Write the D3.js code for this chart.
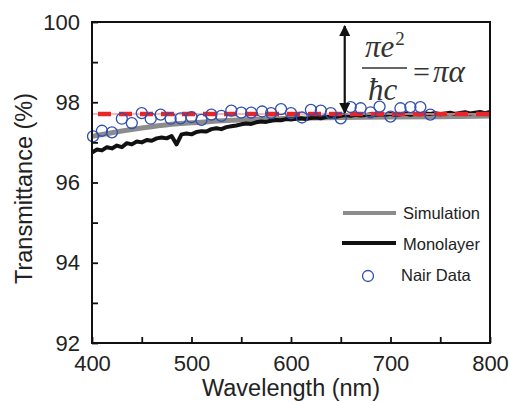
<!DOCTYPE html>
<html><head><meta charset="utf-8">
<script src="https://cdn.jsdelivr.net/npm/d3@7"></script>
<style>body{margin:0;background:#fff}svg{display:block}</style>
</head><body>
<script>
const xTicks=[400,500,600,700,800];
const yTicks=[92,94,96,98,100];
const fresnel=97.71;
const simWl=[400,420,440,460,480,500,520,540,560,580,600,650,700,750,800];
const simT=[97.15,97.24,97.32,97.39,97.45,97.49,97.52,97.55,97.57,97.59,97.60,97.62,97.63,97.64,97.66];
const monoWl=d3.range(400,801,5);
const monoT=[96.75,96.82,96.80,96.88,96.85,96.92,96.88,96.98,96.95,97.02,97.00,97.06,97.04,97.10,97.12,97.10,97.16,96.95,97.20,97.22,97.20,97.26,97.28,97.27,97.33,97.35,97.33,97.38,97.40,97.42,97.45,97.47,97.46,97.50,97.52,97.51,97.54,97.56,97.55,97.58,97.57,97.59,97.60,97.58,97.61,97.62,97.60,97.63,97.65,97.64,97.66,97.68,97.66,97.69,97.67,97.68,97.70,97.68,97.70,97.69,97.71,97.68,97.70,97.72,97.69,97.71,97.70,97.72,97.71,97.73,97.70,97.72,97.74,97.71,97.73,97.75,97.72,97.74,97.76,97.73,97.76];
const nairWl=[401,410,420,430,440,450,459,469,479,489,500,510,520,530,540,550,560,571,580,590,600,611,620,630,640,650,660,670,680,689,700,710,720,730,740];
const nairT=[97.15,97.29,97.25,97.59,97.48,97.73,97.59,97.69,97.59,97.60,97.63,97.56,97.69,97.66,97.79,97.74,97.74,97.77,97.73,97.83,97.73,97.62,97.81,97.79,97.73,97.60,97.88,97.85,97.75,97.89,97.64,97.85,97.88,97.88,97.69];
const legendLabels=["Simulation","Monolayer","Nair Data"];

const W=509,H=402;
const m={l:92,r:19,t:22,b:59};
const svg=d3.select("body").append("svg").attr("width",W).attr("height",H);
const x=d3.scaleLinear().domain([400,800]).range([m.l,W-m.r]);
const y=d3.scaleLinear().domain([92,100]).range([H-m.b,m.t]);
const font="'Liberation Sans', Arial, sans-serif";
const blue="#2f4fb0";

// data
svg.append("path").datum(simWl.map((d,i)=>[d,simT[i]]))
  .attr("d",d3.line().x(d=>x(d[0])).y(d=>y(d[1])).curve(d3.curveMonotoneX))
  .attr("fill","none").attr("stroke","#8c8c8c").attr("stroke-width",5);
svg.append("path").datum(monoWl.map((d,i)=>[d,monoT[i]]))
  .attr("d",d3.line().x(d=>x(d[0])).y(d=>y(d[1])))
  .attr("fill","none").attr("stroke","#111").attr("stroke-width",4).attr("stroke-linejoin","round");
svg.append("line").attr("x1",x(400)).attr("x2",x(800)).attr("y1",y(fresnel)).attr("y2",y(fresnel))
  .attr("stroke","#f4a0a0").attr("stroke-width",1.5);
svg.append("line").attr("x1",x(400)+6).attr("x2",x(800)).attr("y1",y(fresnel)).attr("y2",y(fresnel))
  .attr("stroke","#e8262a").attr("stroke-width",4.5).attr("stroke-dasharray","13,8");
svg.selectAll("circle.nair").data(nairWl.map((d,i)=>[d,nairT[i]])).enter().append("circle")
  .attr("class","nair").attr("cx",d=>x(d[0])).attr("cy",d=>y(d[1])).attr("r",5.5)
  .attr("fill","none").attr("stroke",blue).attr("stroke-width",1.3);

// axes
const gx=svg.append("g").attr("transform",`translate(0,${H-m.b})`)
  .call(d3.axisBottom(x).tickValues(d3.range(400,801,50)).tickSize(-6).tickPadding(10)
  .tickFormat(d=>xTicks.includes(d)?d:""));
const gy=svg.append("g").attr("transform",`translate(${m.l},0)`)
  .call(d3.axisLeft(y).tickValues(d3.range(92,100.1,1)).tickSize(-6).tickPadding(12)
  .tickFormat(d=>yTicks.includes(d)?d:""));
[gx,gy].forEach(g=>{g.select(".domain").remove();
  g.selectAll(".tick line").attr("stroke","#111").attr("stroke-width",1.8);
  g.selectAll("text").attr("font-family",font).attr("font-size",22).attr("fill","#222");});
gx.selectAll(".tick text").attr("dy","0.8em");
svg.append("rect").attr("x",m.l).attr("y",m.t).attr("width",W-m.r-m.l).attr("height",H-m.b-m.t)
  .attr("fill","none").attr("stroke","#111").attr("stroke-width",2);

svg.append("text").attr("x",(m.l+W-m.r)/2).attr("y",396).attr("text-anchor","middle")
  .attr("font-family",font).attr("font-size",23.5).attr("fill","#222").text("Wavelength (nm)");
svg.append("text").attr("transform",`translate(32,${(m.t+H-m.b)/2+6}) rotate(-90)`).attr("text-anchor","middle")
  .attr("font-family",font).attr("font-size",23.5).attr("fill","#222").text("Transmittance (%)");

// arrow
const ax=x(654);
const defs=svg.append("defs");
defs.append("marker").attr("id","ah").attr("viewBox","0 0 10 10").attr("refX",9).attr("refY",5)
  .attr("markerWidth",5).attr("markerHeight",5).attr("orient","auto-start-reverse")
  .append("path").attr("d","M0,0L10,5L0,10z").attr("fill","#111");
svg.append("line").attr("x1",ax).attr("x2",ax).attr("y1",y(99.9)).attr("y2",y(fresnel)-1)
  .attr("stroke","#111").attr("stroke-width",2.2)
  .attr("marker-start","url(#ah)").attr("marker-end","url(#ah)");

// formula
const serif="'Liberation Serif','Times New Roman',serif";
const f=svg.append("g").attr("font-family",serif).attr("font-style","italic").attr("fill","#333");
const num=f.append("text").attr("x",365).attr("y",57).attr("font-size",31);
num.append("tspan").text("πe");
num.append("tspan").attr("dy",-12).attr("font-size",19).attr("font-style","normal").attr("dx",1).text("2");
f.append("line").attr("x1",362).attr("x2",407).attr("y1",68).attr("y2",68).attr("stroke","#333").attr("stroke-width",1.4);
f.append("text").attr("x",368).attr("y",100).attr("font-size",31).text("ħc");
f.append("text").attr("x",413).attr("y",82).attr("font-size",30).attr("font-style","normal").text("=");
f.append("text").attr("x",433).attr("y",82).attr("font-size",31).text("πα");

// legend
const lg=svg.append("g").attr("font-family",font).attr("font-size",16.5).attr("fill","#222");
lg.append("line").attr("x1",343).attr("x2",396).attr("y1",213).attr("y2",213).attr("stroke","#8c8c8c").attr("stroke-width",4);
lg.append("line").attr("x1",342).attr("x2",396).attr("y1",243).attr("y2",243).attr("stroke","#111").attr("stroke-width",4);
lg.append("circle").attr("cx",368).attr("cy",276).attr("r",5.5).attr("fill","none").attr("stroke",blue).attr("stroke-width",1.3);
legendLabels.forEach((t,i)=>lg.append("text").attr("x",i==2?401:403).attr("y",219+i*31).text(t));
</script>
</body></html>
